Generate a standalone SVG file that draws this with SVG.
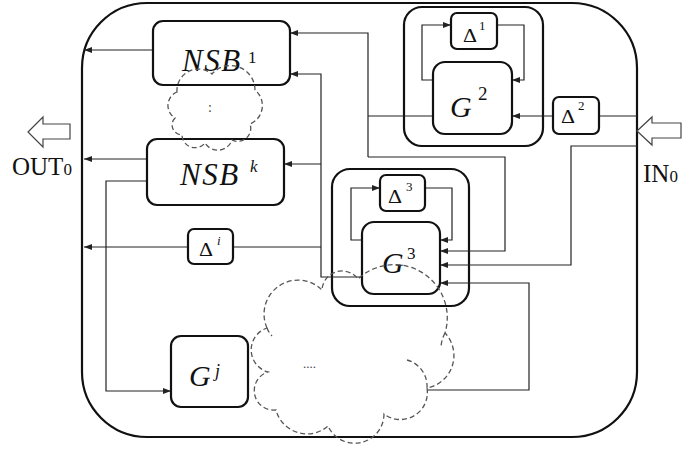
<svg xmlns="http://www.w3.org/2000/svg" width="682" height="449" viewBox="0 0 682 449">
<defs>
<style>
.frame{fill:#fff;stroke:#111;stroke-width:2.2}
.box{fill:#fff;stroke:#111;stroke-width:2.2}
.cont{fill:none;stroke:#111;stroke-width:2.2}
.ln{fill:none;stroke:#222;stroke-width:1.2}
.arr{fill:none;stroke:#222;stroke-width:1.2;marker-end:url(#ah)}
.cloud{fill:none;stroke:#555;stroke-width:1.3;stroke-dasharray:5 3}
.hol{fill:#fff;stroke:#444;stroke-width:1.2}
.t{font-family:"Liberation Serif","Times New Roman",serif;fill:#111}
.i{font-style:italic}
.dots{font-family:"Liberation Serif",serif;fill:#444}
</style>
<marker id="ah" markerWidth="8" markerHeight="6" refX="8" refY="3" orient="auto" markerUnits="userSpaceOnUse">
<path d="M0,0 L8,3 L0,6 z" fill="#222"/>
</marker>
</defs>
<rect width="682" height="449" fill="#fff"/>
<g id="frame">
<rect class="frame" x="82" y="3" width="555" height="434" rx="65" ry="65"/>
</g>
<g id="g2-container"><rect class="cont" x="404" y="7" width="139" height="139" rx="18"/></g>
<g id="g3-container"><rect class="cont" x="332" y="169" width="137" height="137" rx="18"/></g>
<g id="connectors">
<path class="arr" d="M153,50 H84"/>
<path class="arr" d="M147,159 H84"/>
<path class="arr" d="M147,181 H106 V391 H171"/>
<path class="arr" d="M188,247 H84"/>
<path class="arr" d="M362,277 H321 V74 H290"/>
<path class="arr" d="M321,164 H284"/>
<path class="ln" d="M321,247 H233"/>
<path class="ln" d="M433,116 H368"/>
<path class="arr" d="M368,157 V33 H290"/>
<path class="arr" d="M368,157 H505 V251 H440"/>
<path class="ln" d="M637,116 H599"/>
<path class="arr" d="M553,116 H512"/>
<path class="arr" d="M637,146 H571 V265 H440"/>
<path class="arr" d="M427,390 H529 V283 H440"/>
<path class="arr" d="M433,80 H422 V25 H451"/>
<path class="arr" d="M497,25 H524 V80 H512"/>
<path class="arr" d="M362,240 H351 V188 H380"/>
<path class="arr" d="M425,188 H452 V240 H440"/>
</g>
<g id="nsb1">
<rect class="box" x="153" y="21" width="137" height="64" rx="10"/>
<text class="t i" x="182" y="71" font-size="31" letter-spacing="1.5">NSB</text>
<text class="t" x="248" y="63" font-size="17">1</text>
</g>
<g id="nsbk">
<rect class="box" x="147" y="139" width="137" height="66" rx="10"/>
<text class="t i" x="180" y="185" font-size="31" letter-spacing="1.5">NSB</text>
<text class="t i" x="250" y="172" font-size="17">k</text>
</g>
<g id="delta1">
<rect class="box" x="451" y="13" width="46" height="36" rx="6"/>
<text class="t" x="463" y="42" font-size="18" textLength="14" lengthAdjust="spacingAndGlyphs">Δ</text>
<text class="t" x="479" y="30" font-size="13">1</text>
</g>
<g id="g2">
<rect class="box" x="433" y="62" width="79" height="72" rx="12"/>
<text class="t i" x="450" y="117" font-size="30">G</text>
<text class="t" x="478" y="100" font-size="19">2</text>
</g>
<g id="delta2">
<rect class="box" x="553" y="97" width="46" height="37" rx="6"/>
<text class="t" x="561" y="123" font-size="18" textLength="14" lengthAdjust="spacingAndGlyphs">Δ</text>
<text class="t" x="578" y="110" font-size="13">2</text>
</g>
<g id="delta3">
<rect class="box" x="380" y="175" width="45" height="36" rx="6"/>
<text class="t" x="388" y="203" font-size="18" textLength="14" lengthAdjust="spacingAndGlyphs">Δ</text>
<text class="t" x="406" y="191" font-size="13">3</text>
</g>
<g id="g3">
<rect class="box" x="362" y="222" width="78" height="72" rx="12"/>
<text class="t i" x="382" y="273" font-size="30">G</text>
<text class="t" x="407" y="259" font-size="17">3</text>
</g>
<g id="delta-i">
<rect class="box" x="188" y="229" width="45" height="35" rx="6"/>
<text class="t" x="199" y="256" font-size="18" textLength="14" lengthAdjust="spacingAndGlyphs">Δ</text>
<text class="t i" x="217" y="245" font-size="13">i</text>
</g>
<g id="gj">
<rect class="box" x="171" y="336" width="77" height="71" rx="10"/>
<text class="t i" x="189" y="386" font-size="30">G</text>
<text class="t i" x="215" y="377" font-size="18">j</text>
</g>
<g id="cloud-small">
<path class="cloud" d="M177,92 A21.4,21.4 0 0 1 212,74 A24.5,24.5 0 0 1 255,90 A20,20 0 0 1 250,124 A13,13 0 0 1 232,140 A15,15 0 0 1 205,143 A13,13 0 0 1 182,135 A10,10 0 0 1 175,118 A14.6,14.6 0 0 1 177,92 Z"/>
<text class="dots" x="208" y="112" font-size="14">:</text>
</g>
<g id="cloud-big">
<path class="cloud" d="M267,328 A34,34 0 0 1 322,290 A20,20 0 0 1 358,279 A53,53 0 0 1 445,333 A33,33 0 0 1 427,388 A27,27 0 0 1 384,414 A29.3,29.3 0 0 1 328,426 A32,32 0 0 1 276,410 A19.5,19.5 0 0 1 268,372 A23,23 0 0 1 267,328 Z"/>
<path class="cloud" d="M407,360 A27,27 0 0 1 427,388 M445,333 A33,33 0 0 0 441,348 M267,328 A23,23 0 0 0 272,336"/>
<text class="dots" x="303" y="368" font-size="13">....</text>
</g>
<g id="out">
<polygon class="hol" points="28,132 43,117 43,124 70,124 70,139 43,139 43,147"/>
<text class="t" x="12" y="175" font-size="25">OUT<tspan font-size="17">0</tspan></text>
</g>
<g id="in">
<polygon class="hol" points="637,131 652,117 652,123 681,123 681,138 652,138 652,145"/>
<text class="t" x="643" y="182" font-size="25">IN<tspan font-size="17">0</tspan></text>
</g>
</svg>
